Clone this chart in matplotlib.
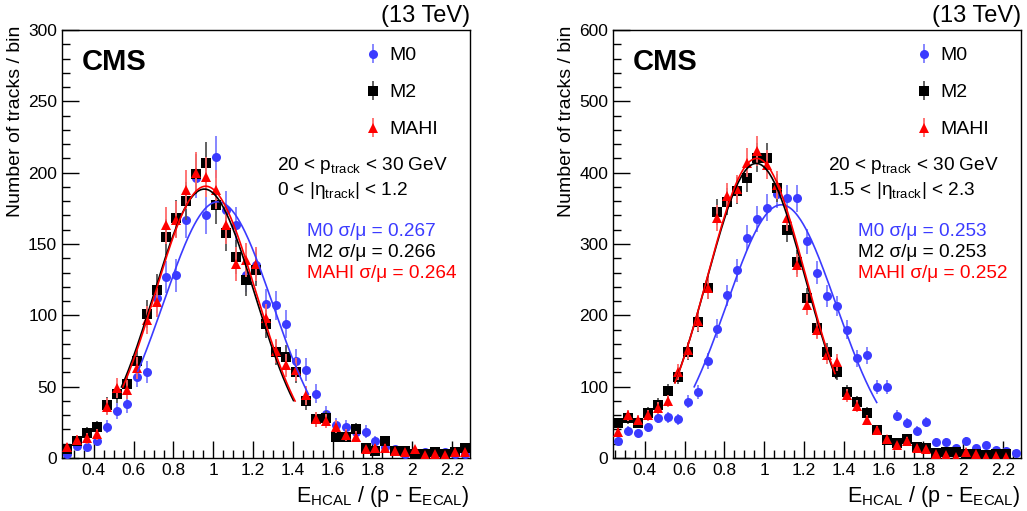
import numpy as np
import matplotlib.pyplot as plt
from matplotlib.ticker import MultipleLocator

plt.rcParams['font.family'] = ['Liberation Sans', 'DejaVu Sans']
plt.rcParams['mathtext.fontset'] = 'custom'
plt.rcParams['mathtext.rm'] = 'Liberation Sans'
plt.rcParams['mathtext.it'] = 'Liberation Sans:italic'
plt.rcParams['mathtext.bf'] = 'Liberation Sans:bold'

# bin centres of E_HCAL / (p - E_ECAL), 41 bins of width 0.05 starting at 0.24
x_centres = np.round(np.arange(0.265, 2.29, 0.05), 3)

# left panel: 0 < |eta| < 1.2
m0_barrel = [3, 8.6, 8, 12, 22, 33, 38, 57, 60, 112, 127, 128, 167, 196, 170, 211, 174, 163, 128, 135,
             108, 107, 94, 68, 62, 45, 31, 23, 22, 18, 18.5, 12, 8, 6, 3, 2, 4, 2, 4, 3, 3]
m2_barrel = [6, 12, 17.8, 21.5, 37, 45, 52, 68, 101, 118, 155, 168, 180, 199, 207, 177, 158, 141, 125, 132,
             94, 74, 71, 60, 40, 27, 28, 15, 15, 20, 7, 5, 12, 5, 5, 3, 3, 4, 3, 4, 7]
mahi_barrel = [8, 12.6, 13.8, 16.6, 36, 49, 48, 63, 97, 109, 163, 167, 188, 200, 197, 188, 163, 136, 139, 136,
               98, 75, 65, 62, 44, 27, 26, 22, 16, 15, 6, 7, 7, 5, 4, 6, 2, 3, 2, 4, 4]

# right panel: 1.5 < |eta| < 2.3
m0_endcap = [24, 38, 35, 43, 56, 57, 54, 79, 93, 136, 181, 228, 263, 309, 335, 351, 370, 364, 364, 304,
             260, 227, 213, 180, 140, 144, 100, 100, 59, 49, 38, 50, 23, 23, 14, 24, 14.5, 18, 11, 10, 7]
m2_endcap = [49.5, 55.6, 49.5, 63.5, 75, 94, 114, 149, 190, 239, 345, 359, 375, 393, 421, 421, 378, 320, 275, 224,
             182, 149, 121, 93, 78, 63, 39, 25, 21, 26, 15, 14, 7.5, 8, 9, 6, 5, 4, 5, 6, 0]
mahi_endcap = [36, 60, 53, 60, 70, 80, 121, 151, 192, 239, 336, 367, 377, 414, 430, 411, 383, 336, 270, 215,
               180, 144, 134, 88, 73, 53, 39, 26, 18, 24, 14, 13, 6, 4, 2, 8, 5, 2, 3, 2, 0]

# gaussian fit results per algorithm (M0, M2, MAHI): amplitude, mean, sigma, fit range
fit_amp_barrel = [179.6, 188.5, 190.5]
fit_mean_barrel = [1.023, 0.955, 0.962]
fit_sigma_barrel = [0.273, 0.255, 0.254]
fit_lo_barrel = [0.621, 0.539, 0.546]
fit_hi_barrel = [1.478, 1.403, 1.411]

fit_amp_endcap = [355, 413, 420]
fit_mean_endcap = [1.086, 0.960, 0.962]
fit_sigma_endcap = [0.275, 0.248, 0.247]
fit_lo_endcap = [0.648, 0.551, 0.551]
fit_hi_endcap = [1.565, 1.36, 1.355]

labels = ['M0', 'M2', 'MAHI']
res_barrel = ['0.267', '0.266', '0.264']
res_endcap = ['0.253', '0.253', '0.252']
colors = ['#3b3bff', 'black', '#ff0000']
bar_colors = ['#7d7dff', '#555555', '#ff6a6a']
markers = ['o', 's', '^']
msizes = [6.5, 7, 6.5]


def draw_panel(ax, series, amps, means, sigmas, los, his, res, eta_text, ymax, ymajor, yminor):
    handles = []
    for k in range(3):
        y = np.array(series[k], dtype=float)
        keep = y > 0
        h = ax.errorbar(x_centres[keep], y[keep], yerr=np.sqrt(y[keep]), fmt=markers[k],
                        color=colors[k], ecolor=bar_colors[k], elinewidth=1.3,
                        markersize=msizes[k], markeredgewidth=0, capsize=0, zorder=3 + k)
        handles.append(h)
    for k in range(3):
        xf = np.linspace(los[k], his[k], 200)
        yf = amps[k] * np.exp(-0.5 * ((xf - means[k]) / sigmas[k]) ** 2)
        ax.plot(xf, yf, color=colors[k], lw=1.2, zorder=7 + k)

    ax.set_xlim(0.24, 2.29)
    ax.set_ylim(0, ymax)
    ax.xaxis.set_major_locator(MultipleLocator(0.2))
    ax.xaxis.set_minor_locator(MultipleLocator(0.05))
    ax.yaxis.set_major_locator(MultipleLocator(ymajor))
    ax.yaxis.set_minor_locator(MultipleLocator(yminor))
    ax.xaxis.set_major_formatter(plt.FuncFormatter(lambda v, p: f'{v:g}'))
    ax.tick_params(which='both', direction='in', top=False, right=False, labelsize=12.5)
    ax.tick_params(which='major', length=12, width=1)
    ax.tick_params(which='minor', length=6, width=1)
    for sp in ax.spines.values():
        sp.set_linewidth(1)

    ax.set_ylabel('Number of tracks / bin', fontsize=14, loc='top')
    ax.yaxis.set_label_coords(-0.092, 1.01)
    ax.set_xlabel(r'E$_{\mathrm{HCAL}}$ / (p - E$_{\mathrm{ECAL}}$)', fontsize=15.5, loc='right')
    ax.xaxis.set_label_coords(1.0, -0.06)

    ax.text(1.0, 1.008, '(13 TeV)', transform=ax.transAxes, fontsize=17,
            ha='right', va='bottom')
    ax.text(0.048, 0.925, 'CMS', transform=ax.transAxes, fontsize=21,
            fontweight='bold', ha='left', va='center')

    ax.text(0.528, 0.683, r'20 < p$_{\mathrm{track}}$ < 30 GeV', transform=ax.transAxes,
            fontsize=13.7, ha='left', va='center')
    ax.text(0.528, 0.625, eta_text, transform=ax.transAxes,
            fontsize=13.7, ha='left', va='center')
    for k in range(3):
        ax.text(0.60, 0.529 - 0.049 * k, f'{labels[k]} σ/μ = {res[k]}', transform=ax.transAxes,
                fontsize=13.7, color=colors[k], ha='left', va='center')

    ax.legend(handles, labels, loc='upper left', bbox_to_anchor=(0.735, 0.97), frameon=False,
              fontsize=14, handlelength=0.7, handletextpad=0.5, labelspacing=1.0,
              borderpad=0.2, borderaxespad=0)


fig = plt.figure(figsize=(10.27, 5.11), dpi=100)
ax1 = fig.add_axes([62 / 1027, 53 / 511, 408 / 1027, 428 / 511])
ax2 = fig.add_axes([613 / 1027, 53 / 511, 408 / 1027, 428 / 511])

draw_panel(ax1, [m0_barrel, m2_barrel, mahi_barrel], fit_amp_barrel, fit_mean_barrel,
           fit_sigma_barrel, fit_lo_barrel, fit_hi_barrel, res_barrel,
           r'0 < |η$_{\mathrm{track}}$| < 1.2', 300, 50, 10)
draw_panel(ax2, [m0_endcap, m2_endcap, mahi_endcap], fit_amp_endcap, fit_mean_endcap,
           fit_sigma_endcap, fit_lo_endcap, fit_hi_endcap, res_endcap,
           r'1.5 < |η$_{\mathrm{track}}$| < 2.3', 600, 100, 20)

fig.savefig('out.png', dpi=100, facecolor='white')
